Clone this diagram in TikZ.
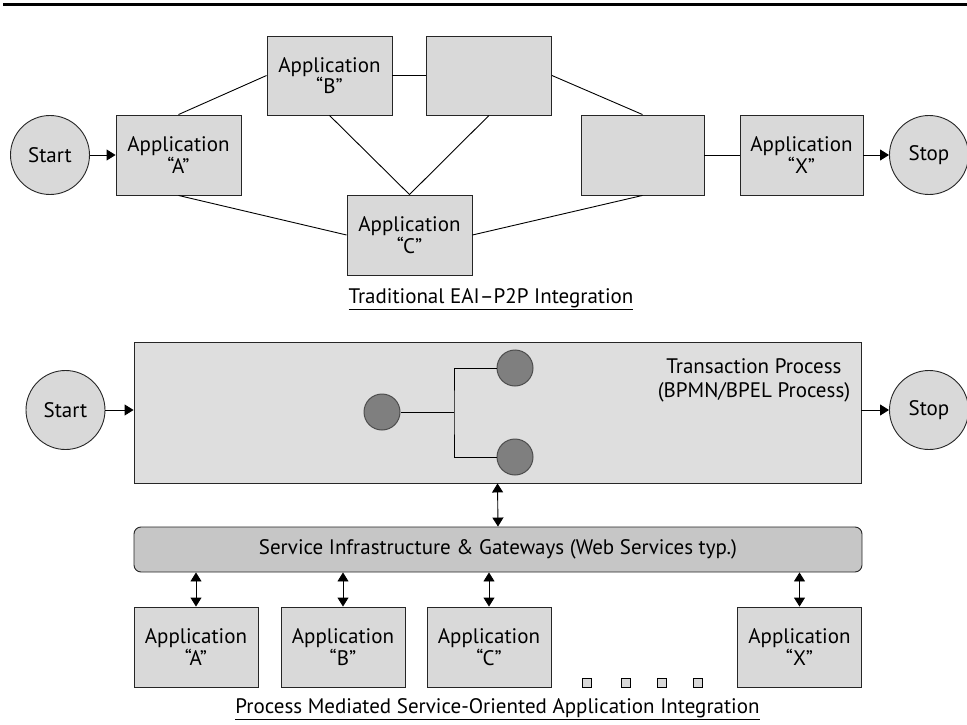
\documentclass[tikz,border=0pt]{standalone}
\usepackage{fontspec}
\setmainfont{PT Sans}
\usetikzlibrary{arrows.meta}

\definecolor{boxgray}{HTML}{D9D9D9}
\definecolor{procgray}{HTML}{DEDEDE}
\definecolor{busgray}{HTML}{C6C6C6}
\definecolor{dotgray}{HTML}{7F7F7F}
\definecolor{dotline}{HTML}{4D4D4D}

\newcommand\diafont{\fontsize{21}{21.5}\selectfont}
\newcommand\titlefont{\fontsize{21}{24}\selectfont}

\begin{document}
\begin{tikzpicture}[x=1pt, y=-1pt,
  every node/.style={font=\diafont, text=black},
  appbox/.style={draw=black!85, fill=boxgray, line width=0.9pt,
    minimum width=125pt, minimum height=80pt, inner sep=0pt, align=center},
  endpoint/.style={circle, draw=black!85, fill=boxgray, line width=0.9pt,
    minimum size=79pt, inner sep=0pt},
  dot/.style={circle, draw=dotline, fill=dotgray, line width=1pt,
    minimum size=36pt, inner sep=0pt},
  link/.style={draw=black, line width=0.9pt},
  flow/.style={link, -{Triangle[length=9pt, width=11pt]}},
  both/.style={link, {Triangle[length=9pt, width=11pt]}-{Triangle[length=9pt, width=11pt]}},
  caption/.style={inner sep=0pt},
  tick/.style={draw=black, fill=boxgray, line width=0.8pt,
    minimum size=9pt, inner sep=0pt}
]
\useasboundingbox (0,0) rectangle (967,725);

% heading rule
\draw[line width=3pt] (3,4.5) -- (967,4.5);

% ---------- point-to-point integration ----------
\node[endpoint] (start1) at (50,155) {Start};
\node[appbox] (a1) at (178.5,155) {Application\\“A”};
\node[appbox, minimum height=79pt] (b1) at (329.5,75.5) {Application\\“B”};
\node[appbox, minimum height=79pt] (t1) at (489,75.5) {};
\node[appbox] (c1) at (409.5,235) {Application\\“C”};
\node[appbox, minimum width=123pt] (r1) at (642.5,155) {};
\node[appbox, minimum width=123pt] (x1) at (801.5,155) {Application\\“X”};
\node[endpoint] (stop1) at (929,155) {Stop};

\draw[flow] (start1) -- (a1);
\draw[link] (a1.north) -- (b1.west);
\draw[link] (a1.south) -- (c1.west);
\draw[link] (b1.south) -- (c1.north);
\draw[link] (t1.south) -- (c1.north);
\draw[link] (b1) -- (t1);
\draw[link] (t1.east) -- (r1.north);
\draw[link] (c1.east) -- (r1.south);
\draw[link] (r1) -- (x1);
\draw[flow] (x1) -- (stop1);

\node[caption] (cap1) at (491,299) {\underline{Traditional EAI–P2P Integration}};

% ---------- process mediated integration ----------
\node[draw=black!85, fill=procgray, line width=0.9pt, minimum width=727pt,
  minimum height=141pt, inner sep=0pt] (proc) at (497.5,412.5) {};
\node[endpoint] (start2) at (65.5,410) {Start};
\node[endpoint] (stop2) at (929,410) {Stop};
\draw[flow] (start2.east) -- (start2.east -| proc.west);
\draw[flow] (stop2.west -| proc.east) -- (stop2.west);

\node[align=center, inner sep=0pt, font=\titlefont] (title) at (754,380)
  {Transaction Process\\(BPMN/BPEL Process)};

\node[dot] (d0) at (382,412) {};
\node[dot] (d1) at (515,368) {};
\node[dot] (d2) at (515,457) {};
\coordinate (fork) at (454,412);
\draw[link] (d0) -- (fork);
\draw[link] (d1) -| (fork) |- (d2);

\node[draw=black!85, fill=busgray, line width=0.9pt, rounded corners=7pt,
  minimum width=728pt, minimum height=45pt, inner sep=0pt] (bus) at (498,549.5)
  {Service Infrastructure \& Gateways (Web Services typ.)};
\draw[both] (proc.south) -- (bus.north);

\node[appbox, minimum width=124pt] (a2) at (196,647) {Application\\“A”};
\node[appbox, minimum width=124pt] (b2) at (343,647) {Application\\“B”};
\node[appbox, minimum width=124pt] (c2) at (489,647) {Application\\“C”};
\node[appbox, minimum width=124pt] (x2) at (799.5,647) {Application\\“X”};
\foreach \n in {a2,b2,c2,x2}
  \draw[both] (\n.north |- bus.south) -- (\n.north);

\node[tick] (s1) at (587,683) {};
\node[tick] (s2) at (626,683) {};
\node[tick] (s3) at (662,683) {};
\node[tick] (s4) at (698,683) {};

\node[caption] (cap2) at (497.5,709)
  {\underline{Process Mediated Service-Oriented Application Integration}};
\end{tikzpicture}
\end{document}
